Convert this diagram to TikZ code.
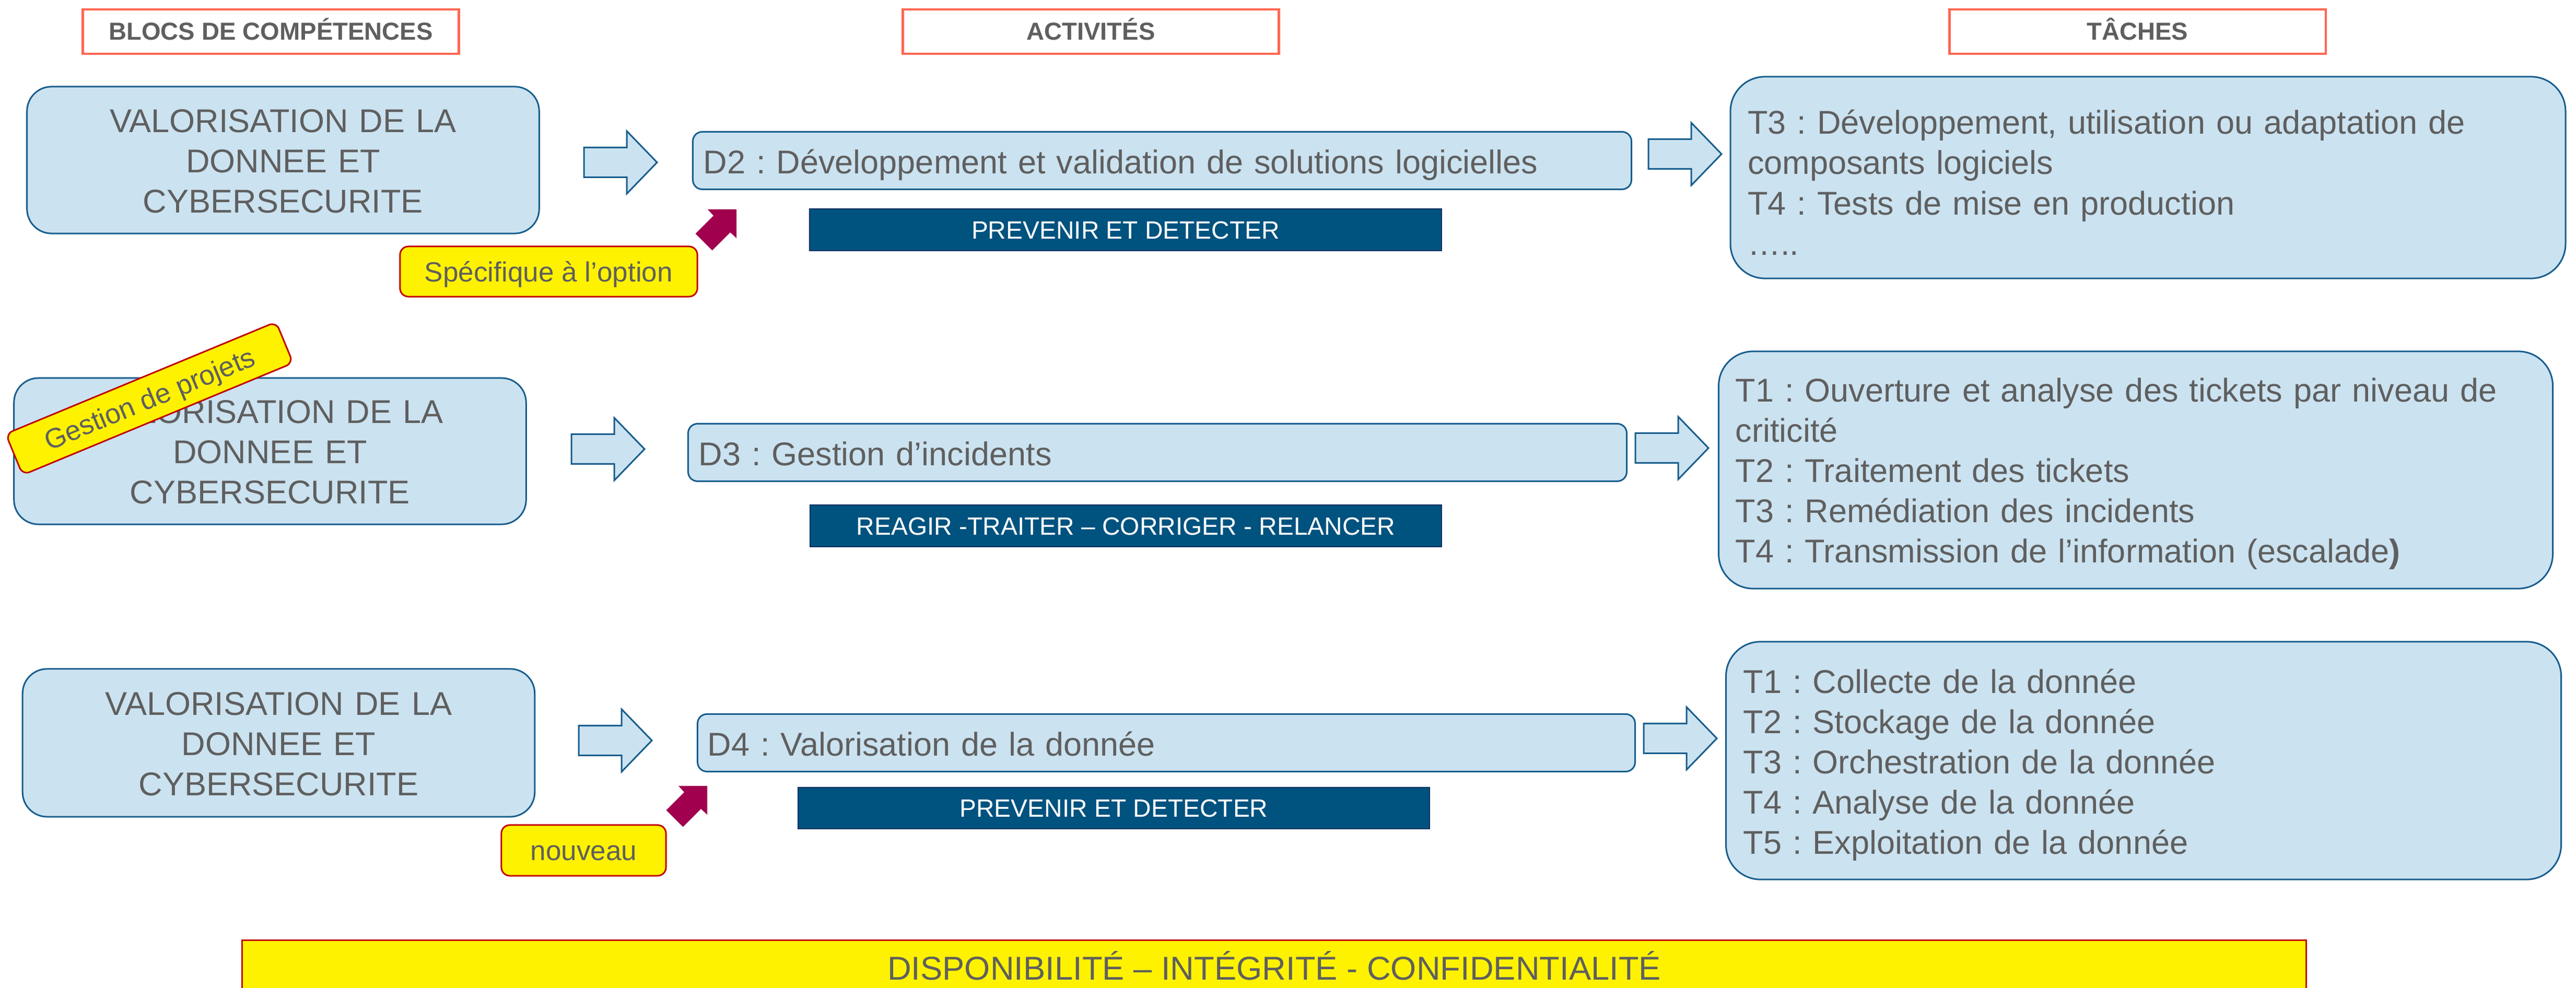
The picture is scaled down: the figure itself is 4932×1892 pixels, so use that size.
\documentclass[tikz,border=0pt]{standalone}
\usepackage{fontspec}
\setmainfont{Liberation Sans}
\frenchspacing
\definecolor{boxfill}{HTML}{CBE2F0}
\definecolor{boxline}{HTML}{175D8D}
\definecolor{txt}{HTML}{5F5F5F}
\definecolor{bandc}{HTML}{00527F}
\definecolor{bandline}{HTML}{14305F}
\definecolor{magc}{HTML}{A0004E}
\definecolor{tagline}{HTML}{C00000}
\definecolor{headline}{HTML}{FF6652}
\tikzset{
  maintext/.style={font=\fontsize{17.93pt}{21.9pt}\selectfont, text=txt},
  bloc/.style={maintext, draw=boxline, fill=boxfill, line width=0.03cm,
    rounded corners=0.47cm, minimum width=9.8cm, minimum height=2.81cm,
    text width=9.2cm, align=center, inner sep=0pt, text height=0.48cm},
  activ/.style={maintext, draw=boxline, fill=boxfill, line width=0.03cm,
    rounded corners=0.18cm, minimum width=17.96cm, minimum height=1.10cm,
    text width=17.56cm, align=left, inner sep=0pt, text height=0.5cm, text depth=0cm},
  tache/.style={maintext, draw=boxline, fill=boxfill, line width=0.03cm,
    rounded corners=0.66cm, minimum width=15.98cm,
    text width=15.32cm, align=left, inner sep=0pt, text height=0.63cm},
  bandbox/.style={draw=bandline, fill=bandc, line width=0.02cm, text=white,
    font=\fontsize{13.6pt}{16pt}\selectfont, minimum width=12.09cm, minimum height=0.79cm,
    inner sep=0pt, text height=0.34cm, text depth=0cm},
  tagbox/.style={draw=tagline, fill=yellow, line width=0.03cm, rounded corners=0.16cm,
    text=txt, font=\fontsize{15.1pt}{18pt}\selectfont, inner sep=0pt,
    text height=0.38cm, text depth=0cm},
  headbox/.style={draw=headline, fill=white, line width=0.045cm, minimum width=7.2cm,
    minimum height=0.85cm, text=txt, font=\bfseries\fontsize{13.4pt}{16pt}\selectfont,
    inner sep=0pt, text height=0.33cm, text depth=0cm},
  barbox/.style={draw=tagline, fill=yellow, line width=0.03cm, text=txt,
    font=\fontsize{18pt}{21pt}\selectfont, minimum width=39.49cm, minimum height=1.39cm,
    inner sep=0pt, text height=0.47cm, text depth=0.36cm},
  barrow/.style={draw=boxline, fill=boxfill, line width=0.03cm, line join=miter},
  magarrow/.style={fill=magc, draw=none},
  blockarr/.pic={\path[barrow] (0,-28.5) -- (82,-28.5) -- (82,-60) -- (140,0) -- (82,60) -- (82,28.5) -- (0,28.5) -- cycle;},
  magarr/.pic={\path[magarrow] (0,0) -- (-55,0) -- (-44,12) -- (-78.5,46.5) -- (-46.5,78.5) -- (-12,44) -- (0,55) -- cycle;}
}
\begin{document}
\begin{tikzpicture}[x=0.01cm,y=-0.01cm]
\useasboundingbox[fill=white] (0,0) rectangle (4932,1892);

% headers
\node[headbox] (h1) at (518.5,60.5) {BLOCS DE COMPÉTENCES};
\node[headbox] (h2) at (2088.5,60.5) {ACTIVITÉS};
\node[headbox] (h3) at (4092.5,60.5) {TÂCHES};

% row 1
\node[bloc] (l1) at (542,306.5) {VALORISATION DE LA\\DONNEE ET\\CYBERSECURITE};
\node[activ] (d2) at (2225,307.5) {D2 : Développement et validation de solutions logicielles};
\node[tache, minimum height=3.86cm, text height=0.65cm] (t1) at (4112.5,340)
  {T3 : Développement, utilisation ou adaptation de\\composants logiciels\\T4 : Tests de mise en production\\…..};
\node[bandbox] (b1) at (2155,440) {PREVENIR ET DETECTER};
\node[tagbox, minimum width=5.69cm, minimum height=0.96cm] (s1) at (1050.5,520) {Spécifique à l’option};
\pic (a1a) at (1118,311) {blockarr};
\pic (a1b) at (3156,295) {blockarr};
\pic (m1) at (1410,401) {magarr};

% row 2
\node[bloc, minimum height=2.80cm] (l2) at (517,864) {VALORISATION DE LA\\DONNEE ET\\CYBERSECURITE};
\node[activ] (d3) at (2216,866.5) {D3 : Gestion d’incidents};
\node[tache, minimum width=15.96cm, minimum height=4.54cm, text height=0.60cm] (t2) at (4089,900)
  {T1 : Ouverture et analyse des tickets par niveau de\\criticité\\T2 : Traitement des tickets\\T3 : Remédiation des incidents\\T4 : Transmission de l’information (escalade\textbf{)}};
\node[bandbox] (b2) at (2155.5,1007) {REAGIR -TRAITER – CORRIGER - RELANCER};
\node[tagbox, rotate=22.5, minimum width=5.6cm, minimum height=0.85cm, rounded corners=0.14cm] (g2) at (286,763) {Gestion de projets};
\pic (a2a) at (1094,860) {blockarr};
\pic (a2b) at (3131,858) {blockarr};

% row 3
\node[bloc, minimum height=2.83cm] (l3) at (533.5,1422.5) {VALORISATION DE LA\\DONNEE ET\\CYBERSECURITE};
\node[activ, minimum width=17.94cm] (d4) at (2233,1422.5) {D4 : Valorisation de la donnée};
\node[tache, minimum height=4.55cm, text height=0.63cm] (t3) at (4104,1456.5)
  {T1 : Collecte de la donnée\\T2 : Stockage de la donnée\\T3 : Orchestration de la donnée\\T4 : Analyse de la donnée\\T5 : Exploitation de la donnée};
\node[bandbox] (b3) at (2132.5,1547.5) {PREVENIR ET DETECTER};
\node[tagbox, minimum width=3.15cm, minimum height=0.97cm] (n3) at (1117.5,1628.5) {nouveau};
\pic (a3a) at (1108,1418) {blockarr};
\pic (a3b) at (3147,1414) {blockarr};
\pic (m3) at (1354,1505) {magarr};

% bottom bar
\node[barbox] (bar) at (2439.5,1870.5) {DISPONIBILITÉ – INTÉGRITÉ - CONFIDENTIALITÉ};
\end{tikzpicture}
\end{document}
